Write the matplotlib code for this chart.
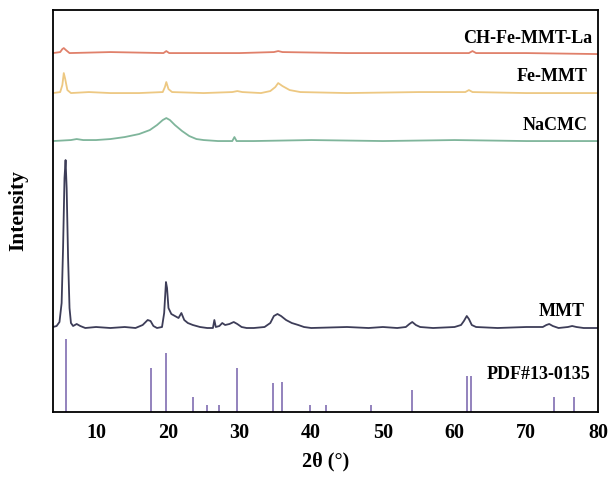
import numpy as np
import matplotlib.pyplot as plt

plt.rcParams['font.family'] = ['Liberation Serif', 'DejaVu Serif']
plt.rcParams['font.weight'] = 'bold'

# MMT pattern (2theta, relative intensity)
mmt_x = [4.0, 4.5, 4.9, 5.2, 5.4, 5.6, 5.75, 5.9, 6.1, 6.3, 6.5, 6.8, 7.3, 7.8, 8.5, 10, 12, 14,
         15.5, 16.5, 17.2, 17.6, 18.0, 18.5, 19.2, 19.5, 19.75, 19.9, 20.1, 20.5, 21.0, 21.5, 21.9,
         22.3, 22.8, 23.5, 24.5, 25.5, 26.3, 26.5, 26.7, 27.2, 27.6, 28.0, 28.6, 29.2, 29.7, 30.3,
         31, 32, 33.5, 34.3, 34.8, 35.3, 35.8, 36.5, 37.3, 38.2, 39, 40, 45, 48, 50, 52, 53.2,
         53.7, 54.1, 54.6, 55.2, 57, 60, 60.9, 61.3, 61.7, 62.0, 62.4, 63, 66, 70, 72.3, 72.8,
         73.2, 73.7, 74.5, 75.8, 76.4, 77, 78, 80]
mmt_y = [1, 2, 6, 25, 80, 150, 168, 140, 70, 20, 5, 2, 4, 2, 0, 1, 0, 1,
         0, 3, 8, 7, 2, 0, 1, 15, 46, 40, 20, 14, 12, 10, 15,
         8, 5, 3, 1, 0, 0, 8, 1, 2, 5, 3, 4, 6, 4, 1,
         0, 0, 1, 5, 12, 14, 12, 8, 5, 3, 1, 0, 1, 0, 1, 0, 1,
         4, 6, 3, 1, 0, 1, 3, 7, 12, 9, 3, 1, 0, 1, 1, 3,
         4, 2, 0, 1, 2, 1, 0, 0]

# NaCMC
nacmc_x = [4.0, 6.5, 7.3, 8.2, 10, 12, 14, 16, 17.5, 18.5, 19.3, 19.8, 20.3, 21, 22, 23, 24, 25,
           27, 29.0, 29.3, 29.6, 32, 40, 50, 60, 70, 80]
nacmc_y = [0, 1, 2, 1, 1, 2, 4, 7, 11, 16, 21, 23, 21, 16, 10, 5, 2, 1,
           0, 0, 4, 0, 0, 1, 0, 1, 0, 0]

# Fe-MMT
femmt_x = [4.0, 5.0, 5.3, 5.5, 5.7, 6.0, 6.5, 9, 12, 16, 19.3, 19.6, 19.8, 20.1, 20.6, 25,
           29.0, 29.7, 30.4, 33, 34.3, 35.0, 35.4, 36.0, 37.0, 38.5, 45, 55, 61.5, 62.0,
           62.5, 70, 80]
femmt_y = [0, 1, 8, 20, 14, 3, 0, 1, 0, 0, 1, 6, 11, 4, 1, 0,
           1, 2, 1, 0, 2, 6, 10, 7, 3, 1, 0, 1, 1, 3,
           1, 0, 0]

# CH-Fe-MMT-La
ch_x = [4.0, 5.0, 5.3, 5.5, 5.8, 6.3, 12, 19.4, 19.8, 20.2, 30, 34.8, 35.4, 36.0, 45, 62.0,
        62.5, 63.0, 70, 80]
ch_y = [0, 1, 4, 5, 3, 0, 1, 0, 2, 0, 0, 1, 2, 1, 0, 0,
        2, 0, 0, -1]

# PDF#13-0135 reference lines
pdf_x = [5.8, 17.6, 19.8, 23.5, 25.5, 27.1, 29.7, 34.7, 36.0, 39.9, 42.1, 48.4, 54.0,
         61.8, 62.3, 73.8, 76.7]
pdf_y = [73, 44, 59, 15, 7, 7, 44, 29, 30, 7, 7, 7, 22, 36, 36, 15, 15]

labels = ['CH-Fe-MMT-La', 'Fe-MMT', 'NaCMC', 'MMT', 'PDF#13-0135']

fig = plt.figure(figsize=(6.13, 4.80), dpi=100)
ax = fig.add_axes([0.0865, 0.1417, 0.889, 0.8373])

ax.plot(mmt_x, np.array(mmt_y) + 84, color='#3d3d58', lw=1.3)
ax.plot(nacmc_x, np.array(nacmc_y) + 271, color='#7fb59b', lw=1.3)
ax.plot(femmt_x, np.array(femmt_y) + 319, color='#edc882', lw=1.3)
ax.plot(ch_x, np.array(ch_y) + 359, color='#e0806a', lw=1.3)
ax.vlines(pdf_x, 0, pdf_y, color='#8a78b8', lw=1.3)

lab_y = [374, 336, 287, 101, 37]
lab_x = [79.2, 78.6, 78.6, 78.2, 79.0]
for t, xx, yy in zip(labels, lab_x, lab_y):
    ax.text(xx, yy, t, ha='right', va='center', fontsize=13, fontweight='bold')

ax.set_xlim(4, 80)
ax.set_ylim(0, 402)
ax.set_xticks([10, 20, 30, 40, 50, 60, 70, 80])
ax.set_yticks([])
ax.tick_params(axis='x', length=0, labelsize=14.5, pad=8)
for s in ax.spines.values():
    s.set_linewidth(1.3)
ax.set_xlabel('2θ (°)', fontsize=14.5, fontweight='bold', labelpad=6)
ax.set_ylabel('Intensity', fontsize=15.5, fontweight='bold', labelpad=18)

fig.savefig('out.png', dpi=100)
